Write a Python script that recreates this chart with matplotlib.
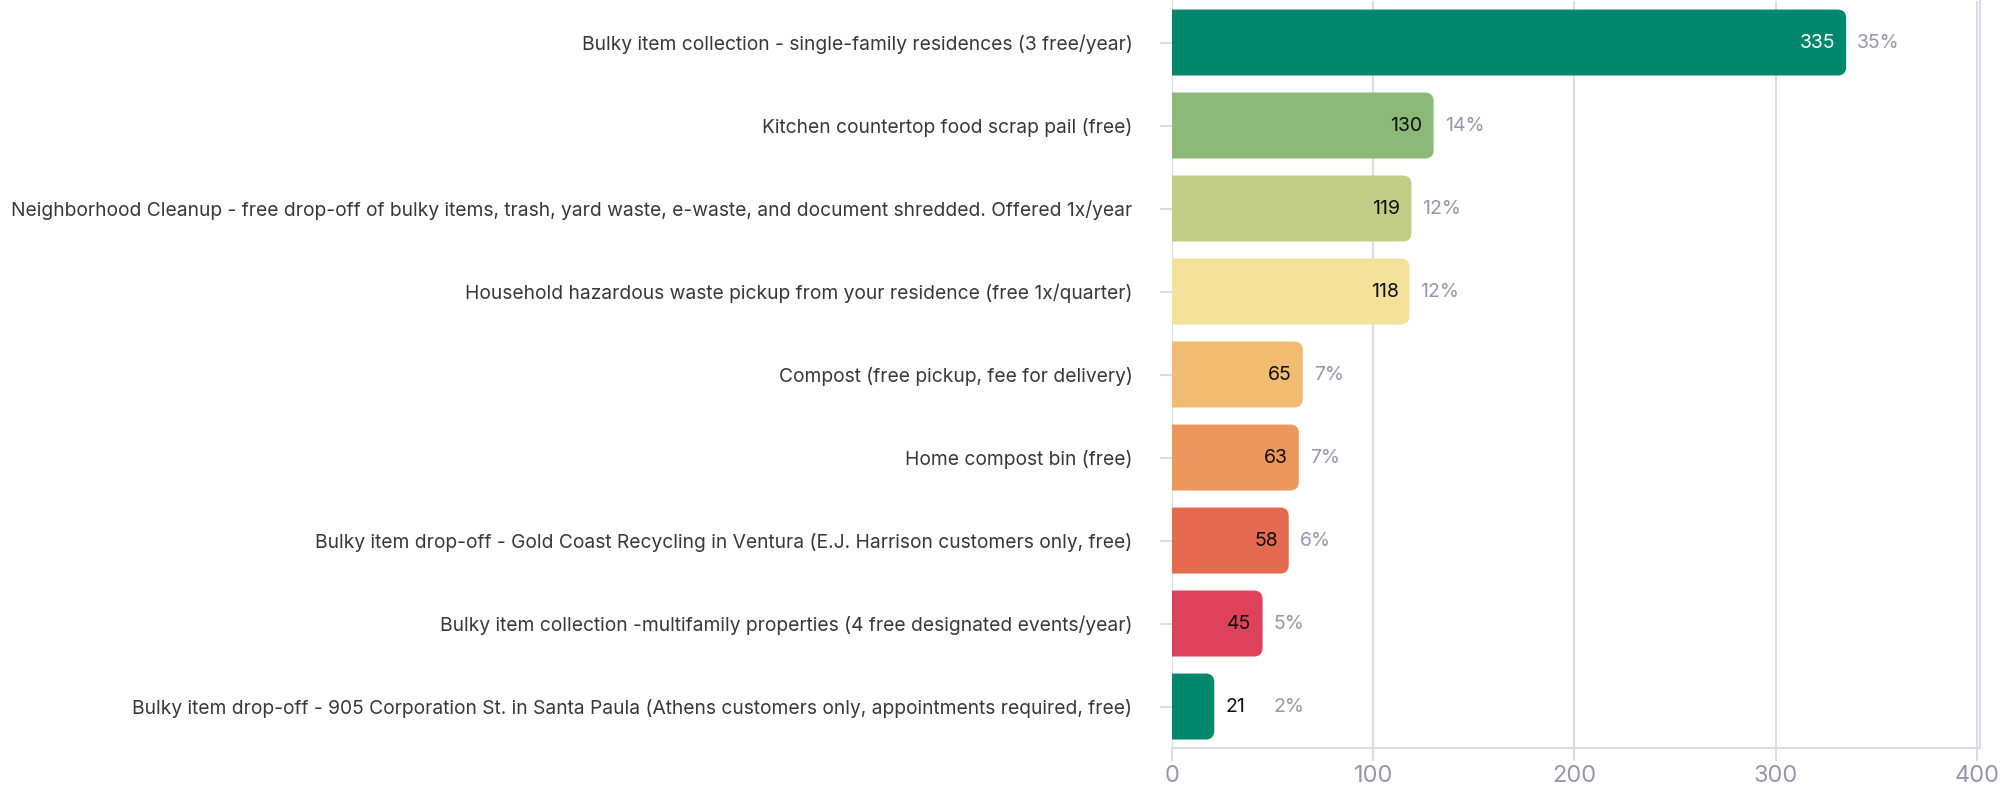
import numpy as np
import matplotlib.pyplot as plt
from matplotlib.patches import FancyBboxPatch

plt.rcParams['font.family'] = ['Inter', 'DejaVu Sans']

# dati
etichette = [
    'Bulky item collection - single-family residences (3 free/year)',
    'Kitchen countertop food scrap pail (free)',
    'Neighborhood Cleanup - free drop-off of bulky items, trash, yard waste, e-waste, and document shredded. Offered 1x/year',
    'Household hazardous waste pickup from your residence (free 1x/quarter)',
    'Compost (free pickup, fee for delivery)',
    'Home compost bin (free)',
    'Bulky item drop-off - Gold Coast Recycling in Ventura (E.J. Harrison customers only, free)',
    'Bulky item collection -multifamily properties (4 free designated events/year)',
    'Bulky item drop-off - 905 Corporation St. in Santa Paula (Athens customers only, appointments required, free)',
]
valori = [335, 130, 119, 118, 65, 63, 58, 45, 21]
percentuali = ['35%', '14%', '12%', '12%', '7%', '7%', '6%', '5%', '2%']
colori = ['#00876c', '#8cb878', '#c1cd86', '#f4e199', '#f1bc71', '#ec975b',
          '#e46b4f', '#de425b', '#00876c']
x_ticks = [0, 100, 200, 300, 400]

griglia = '#dcdce8'
grigio_testo = '#9896ae'

fig = plt.figure(figsize=(20, 7.85), dpi=100)
ax = fig.add_axes([0.586, 0.0471, 0.404, 0.9516])

y = np.arange(len(valori))
barre = ax.barh(y, valori, height=0.795, color=colori)

# barre con angoli arrotondati a destra
asp = (1 / 83.0) / (1 / 2.0125)
for b, c in zip(barre, colori):
    x0, y0 = b.get_x(), b.get_y()
    w, h = b.get_width(), b.get_height()
    b.set_visible(False)
    p = FancyBboxPatch((x0 - 20, y0), w + 20, h,
                       boxstyle='round,pad=0,rounding_size=4.3',
                       mutation_aspect=asp, facecolor=c, edgecolor='none',
                       zorder=2)
    ax.add_patch(p)

# etichette valori e percentuali
for i, (v, pc) in enumerate(zip(valori, percentuali)):
    if v > 40:
        col = 'white' if i == 0 else '#111111'
        ax.annotate(str(v), (v, i), xytext=(-11, 0), textcoords='offset pixels',
                    ha='right', va='center', fontsize=14, color=col, zorder=3)
        ax.annotate(pc, (v, i), xytext=(11, 0), textcoords='offset pixels',
                    ha='left', va='center', fontsize=14, color=grigio_testo, zorder=3)
    else:
        ax.annotate(str(v), (v, i), xytext=(11, 0), textcoords='offset pixels',
                    ha='left', va='center', fontsize=14, color='#111111', zorder=3)
        ax.annotate(pc, (v, i), xytext=(59, 0), textcoords='offset pixels',
                    ha='left', va='center', fontsize=14, color=grigio_testo, zorder=3)

ax.set_xlim(0, 401.5)
ax.set_ylim(len(valori) - 0.5, -0.5)
ax.set_xticks(x_ticks)
ax.set_xticklabels([str(t) for t in x_ticks])
ax.set_yticks(y)
ax.set_yticklabels(etichette)

ax.grid(axis='x', color=griglia, linewidth=1.5, zorder=0)
ax.set_axisbelow(True)
for s in ['top', 'left']:
    ax.spines[s].set_visible(False)
for s in ['bottom', 'right']:
    ax.spines[s].set_color(griglia)
    ax.spines[s].set_linewidth(1.5)

ax.tick_params(axis='y', length=9, width=1.5, color=griglia, pad=19.5,
               labelsize=13.85, labelcolor='#383838')
ax.tick_params(axis='x', length=9, width=1.5, color=griglia, pad=3,
               labelsize=17, labelcolor=grigio_testo)

plt.savefig('out.png', dpi=100)
